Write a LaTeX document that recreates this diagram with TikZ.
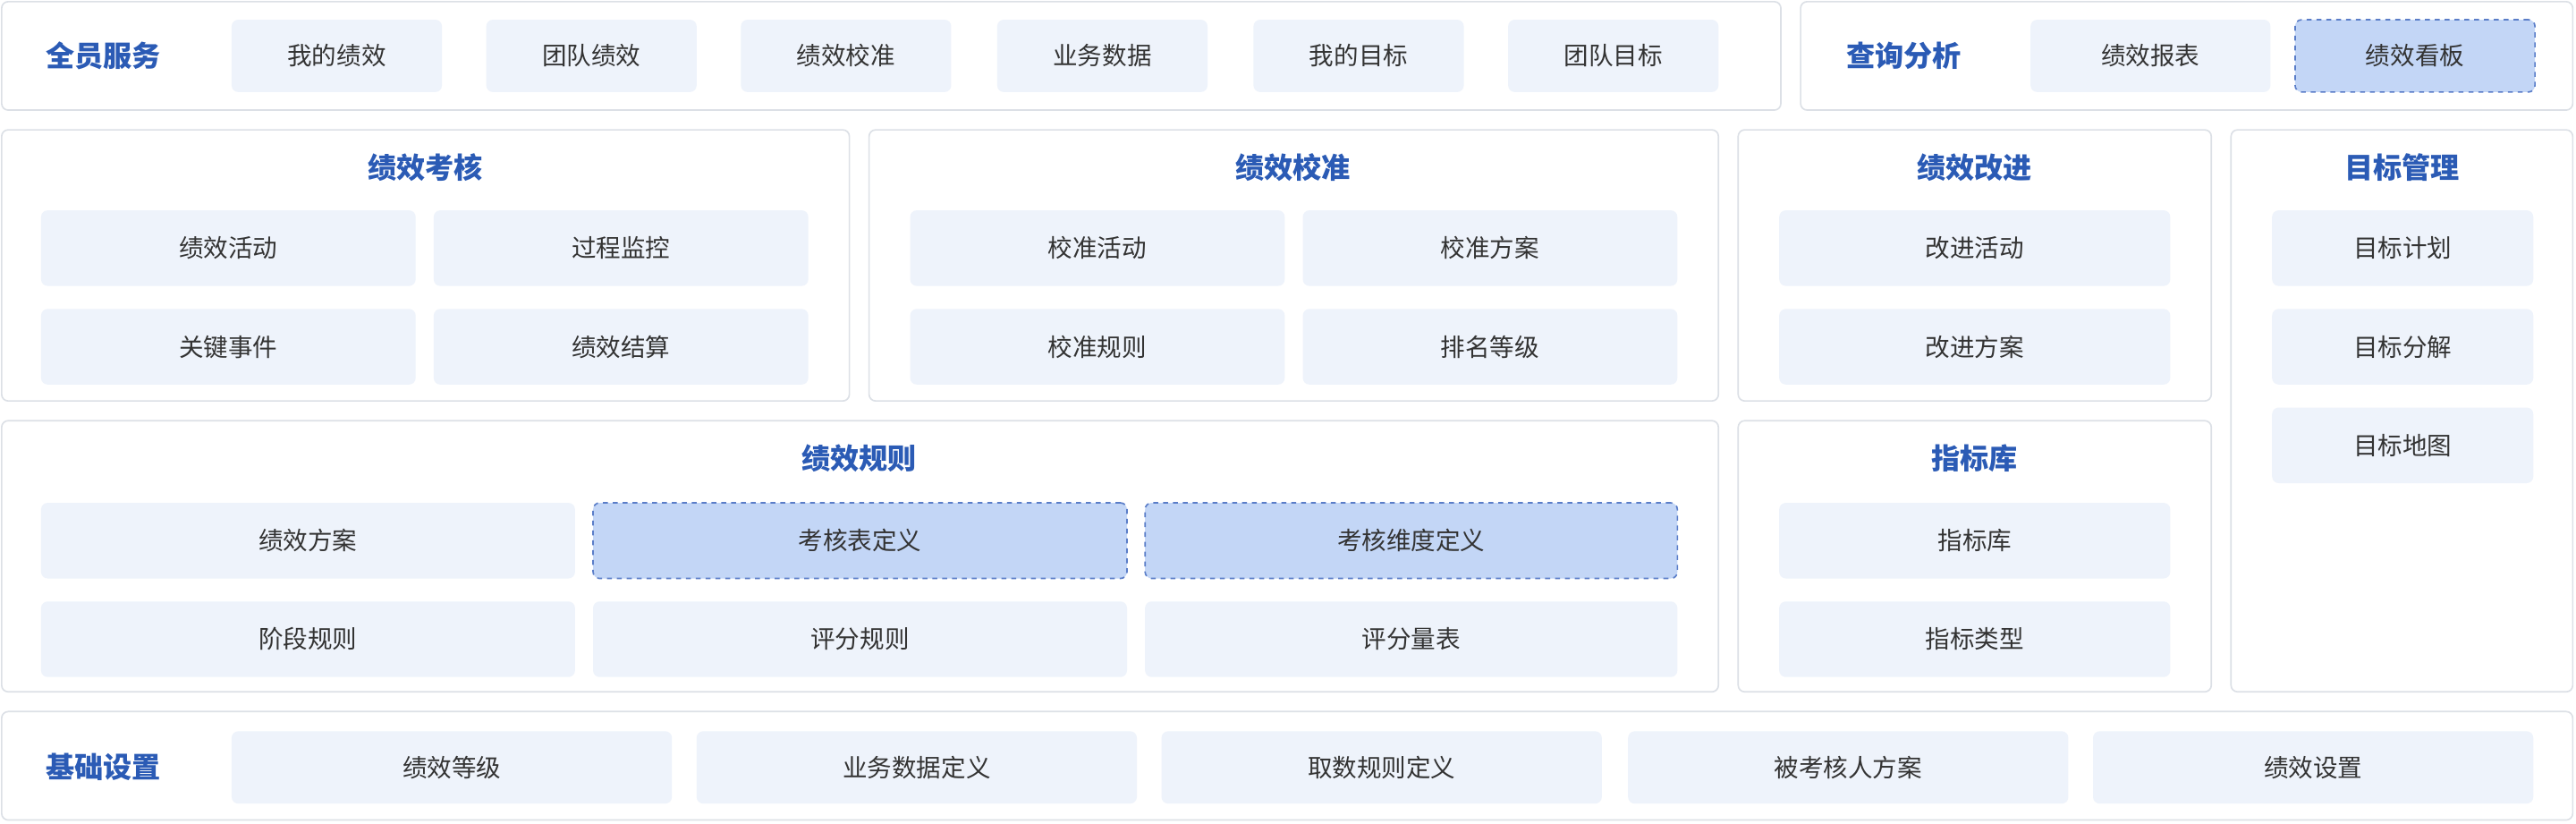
\documentclass[tikz,border=0pt]{standalone}
\usepackage{fontspec}
\setmainfont{Noto Sans CJK SC}
\definecolor{pborder}{HTML}{DCE0E6}
\definecolor{ifill}{HTML}{EEF3FB}
\definecolor{hfill}{HTML}{C3D6F6}
\definecolor{hborder}{HTML}{5A7DC8}
\definecolor{tblue}{HTML}{2B5BB5}
\definecolor{txt}{HTML}{333333}
\tikzset{
 panel/.style={draw=pborder,line width=0.9pt,fill=white,rounded corners=4pt,inner sep=0pt,outer sep=0pt},
 item/.style={fill=ifill,rounded corners=4pt,inner sep=0pt,outer sep=0pt,text=txt,font=\fontsize{15}{18}\selectfont},
 hitem/.style={item,fill=hfill,draw=hborder,dashed,line width=0.9pt},
 ttl/.style={text=tblue,font=\fontsize{17.5}{20}\selectfont\bfseries,inner sep=0pt},
}
\newcommand\bx[7][item]{%
 \pgfmathsetmacro\bw{#5-#3}\pgfmathsetmacro\bh{#6-#4}%
 \node[#1,minimum width=\bw pt,minimum height=\bh pt] (#2) at ({(#3+#5)/2},{(#4+#6)/2}) {#7};}
\begin{document}
\begin{tikzpicture}[x=1pt,y=-1pt]
\useasboundingbox (0,0) rectangle (1568,501);
% panels
\bx[panel]{pA}{1}{1}{1084}{67}{}
\bx[panel]{pB}{1096}{1}{1566}{67}{}
\bx[panel]{pC}{1}{79}{517}{244}{}
\bx[panel]{pD}{529}{79}{1046}{244}{}
\bx[panel]{pE}{1058}{79}{1346}{244}{}
\bx[panel]{pF}{1358}{79}{1566}{421}{}
\bx[panel]{pG}{1}{256}{1046}{421}{}
\bx[panel]{pH}{1058}{256}{1346}{421}{}
\bx[panel]{pI}{1}{433}{1566}{499}{}
% titles
\node[ttl] (tA) at (63,34) {全员服务};
\node[ttl] (tB) at (1159,34) {查询分析};
\node[ttl] (tC) at (259,102) {绩效考核};
\node[ttl] (tD) at (787,102) {绩效校准};
\node[ttl] (tE) at (1202,102) {绩效改进};
\node[ttl] (tF) at (1462,102) {目标管理};
\node[ttl] (tG) at (523,279) {绩效规则};
\node[ttl] (tH) at (1202,279) {指标库};
\node[ttl] (tI) at (63,467) {基础设置};
% top row
\bx{a1}{141}{12}{269}{56}{我的绩效}
\bx{a2}{296}{12}{424}{56}{团队绩效}
\bx{a3}{451}{12}{579}{56}{绩效校准}
\bx{a4}{607}{12}{735}{56}{业务数据}
\bx{a5}{763}{12}{891}{56}{我的目标}
\bx{a6}{918}{12}{1046}{56}{团队目标}
\bx{b1}{1236}{12}{1382}{56}{绩效报表}
\bx[hitem]{b2}{1397}{12}{1543}{56}{绩效看板}
% row2
\bx{c1}{25}{128}{253}{174}{绩效活动}
\bx{c2}{264}{128}{492}{174}{过程监控}
\bx{c3}{25}{188}{253}{234}{关键事件}
\bx{c4}{264}{188}{492}{234}{绩效结算}
\bx{d1}{554}{128}{782}{174}{校准活动}
\bx{d2}{793}{128}{1021}{174}{校准方案}
\bx{d3}{554}{188}{782}{234}{校准规则}
\bx{d4}{793}{188}{1021}{234}{排名等级}
\bx{e1}{1083}{128}{1321}{174}{改进活动}
\bx{e2}{1083}{188}{1321}{234}{改进方案}
\bx{f1}{1383}{128}{1542}{174}{目标计划}
\bx{f2}{1383}{188}{1542}{234}{目标分解}
\bx{f3}{1383}{248}{1542}{294}{目标地图}
% row3
\bx{g1}{25}{306}{350}{352}{绩效方案}
\bx[hitem]{g2}{361}{306}{686}{352}{考核表定义}
\bx[hitem]{g3}{697}{306}{1021}{352}{考核维度定义}
\bx{g4}{25}{366}{350}{412}{阶段规则}
\bx{g5}{361}{366}{686}{412}{评分规则}
\bx{g6}{697}{366}{1021}{412}{评分量表}
\bx{h1}{1083}{306}{1321}{352}{指标库}
\bx{h2}{1083}{366}{1321}{412}{指标类型}
% bottom
\bx{i1}{141}{445}{409}{489}{绩效等级}
\bx{i2}{424}{445}{692}{489}{业务数据定义}
\bx{i3}{707}{445}{975}{489}{取数规则定义}
\bx{i4}{991}{445}{1259}{489}{被考核人方案}
\bx{i5}{1274}{445}{1542}{489}{绩效设置}
\end{tikzpicture}
\end{document}
